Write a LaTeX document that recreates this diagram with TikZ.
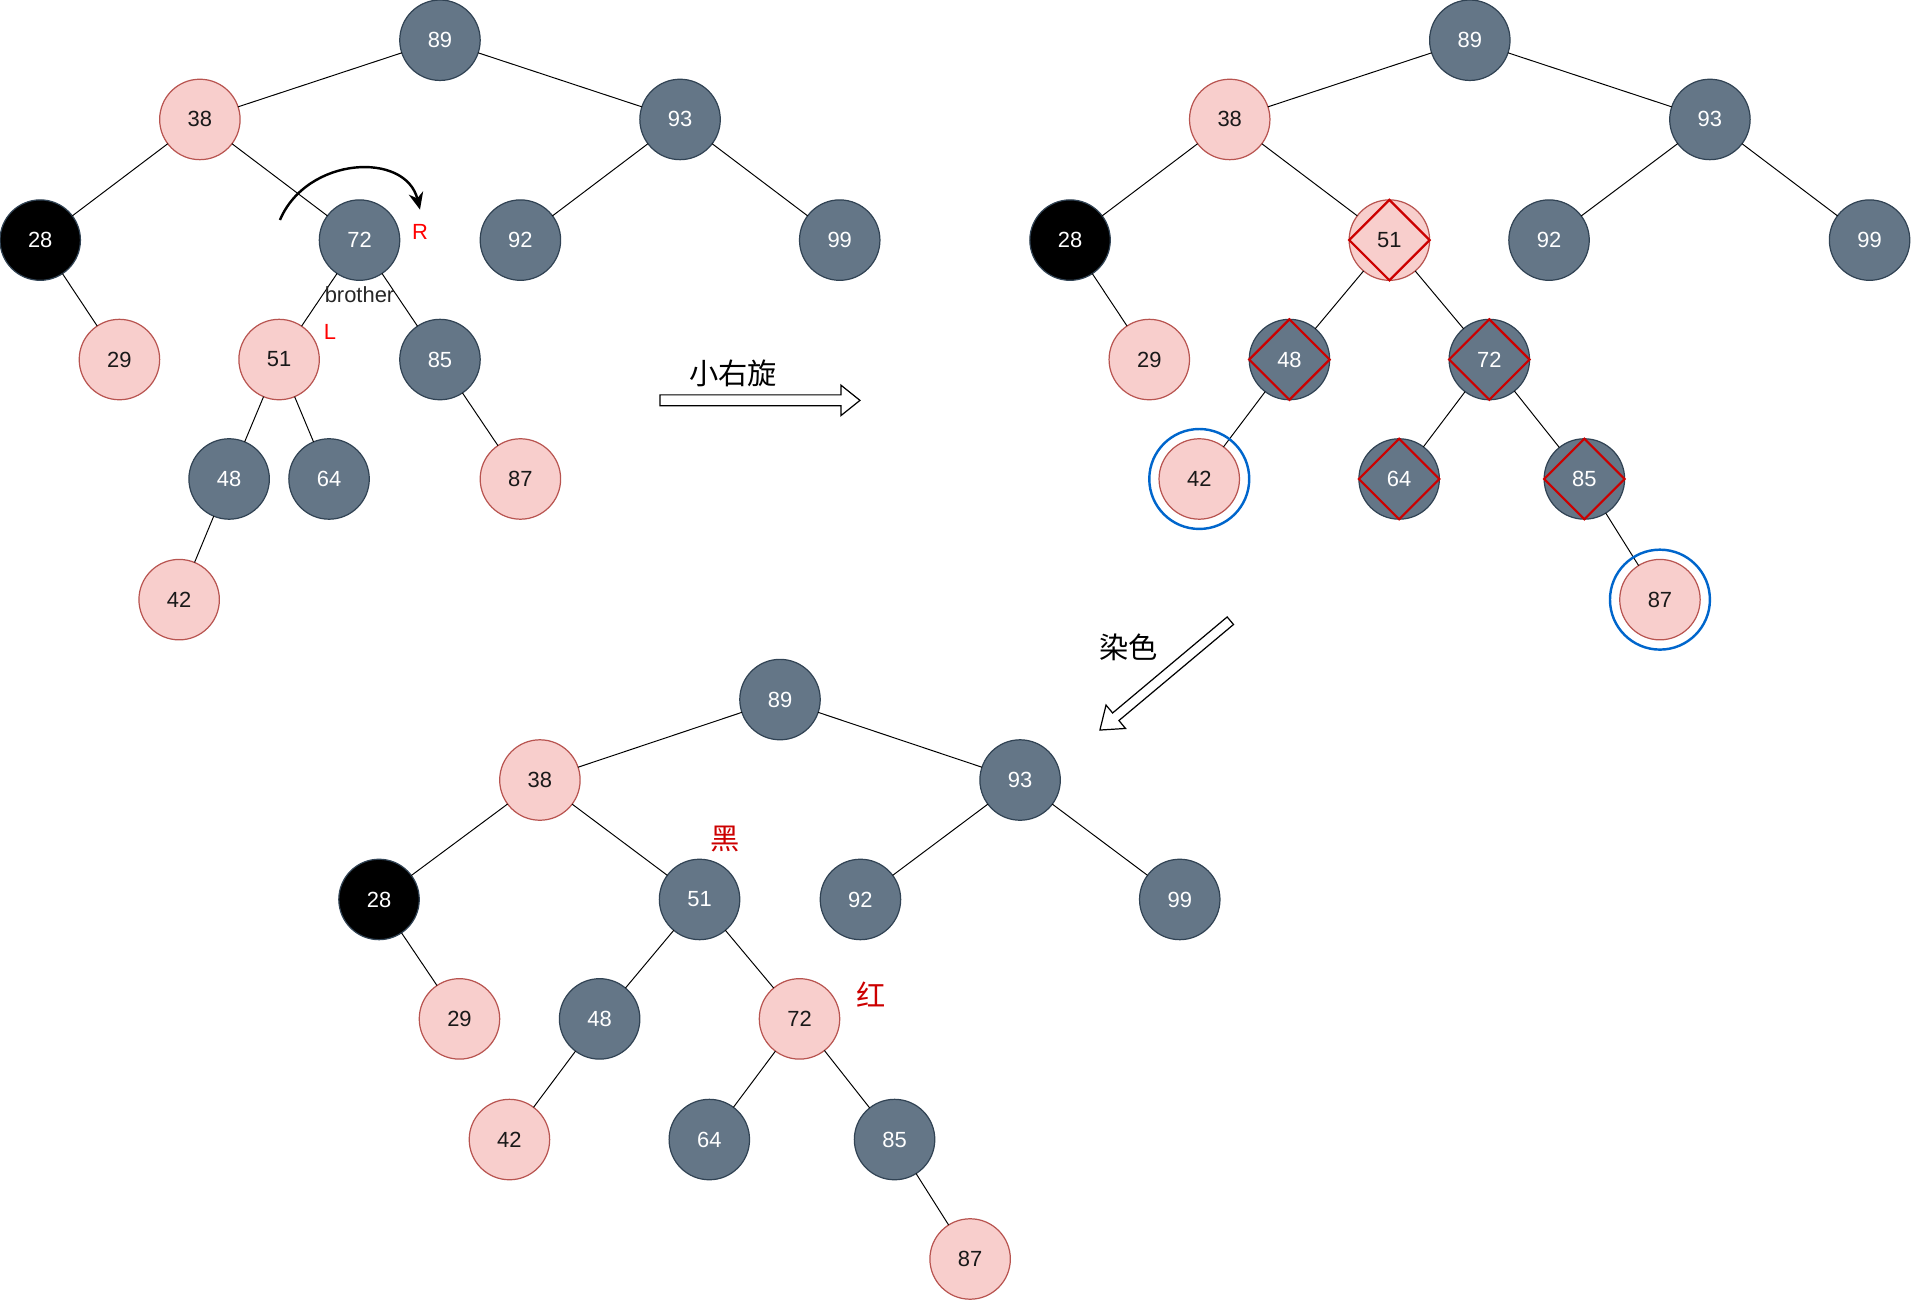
\documentclass[tikz,border=0pt]{standalone}
\usepackage{fontspec}
\setmainfont{Liberation Sans}
\newfontfamily\cjk{Noto Sans CJK SC}
\usetikzlibrary{arrows.meta}
\definecolor{pinkfill}{HTML}{F8CECC}
\definecolor{pinkline}{HTML}{B85450}
\definecolor{darkfill}{HTML}{647687}
\definecolor{darkline}{HTML}{314354}
\definecolor{ringblue}{HTML}{0066CC}
\definecolor{diared}{HTML}{CC0000}
\tikzset{
  nd/.style={circle,minimum size=33pt,inner sep=0pt,outer sep=0pt,line width=0.5pt,font=\fontsize{9pt}{10.5pt}\selectfont},
  rn/.style={nd,fill=pinkfill,draw=pinkline,text=black!90},
  bn/.style={nd,fill=darkfill,draw=darkline,text=white},
  kn/.style={nd,fill=black,draw=darkline,text=white},
  ed/.style={line width=0.4pt,black},
  diam/.style={draw=diared,line width=0.9pt},
  ring/.style={circle,minimum size=41pt,inner sep=0pt,outer sep=0pt,draw=ringblue,line width=1pt},
  blk/.style={draw=black,fill=white,line width=0.5pt,line join=miter},
  lbl/.style={font=\fontsize{9pt}{10.5pt}\selectfont},
  cjklbl/.style={font=\cjk\fontsize{12pt}{14pt}\selectfont}
}
\begin{document}
\begin{tikzpicture}[x=0.5pt,y=-0.5pt]
\useasboundingbox (0,0) rectangle (1568,1067);
% ---------- tree 1 ----------
\node[bn] (a89) at (361,33) {89};
\node[rn] (a38) at (164,98) {38};
\node[bn] (a93) at (558,98) {93};
\node[kn] (a28) at (33,197) {28};
\node[bn] (a72) at (295,197) {72};
\node[bn] (a92) at (427,197) {92};
\node[bn] (a99) at (689,197) {99};
\node[rn] (a29) at (98,295) {29};
\node[rn] (a51) at (229,295) {51};
\node[bn] (a85) at (361,295) {85};
\node[bn] (a48) at (188,393) {48};
\node[bn] (a64) at (270,393) {64};
\node[rn] (a87) at (427,393) {87};
\node[rn] (a42) at (147,492) {42};
\foreach \p/\c in {a89/a38,a89/a93,a38/a28,a38/a72,a93/a92,a93/a99,a28/a29,a72/a51,a72/a85,a51/a48,a51/a64,a85/a87,a48/a42}
  \draw[ed] (\p) -- (\c);
\coordinate (rotS) at (229.7,180.5);
\coordinate (rotE) at (344.6,172);
\draw[line width=1pt,-{Stealth[length=7pt,width=6pt]}] (rotS) .. controls (252,128) and (333,124) .. (rotE);
\node[lbl,text=red] (labR) at (344.6,190) {R};
\node[lbl,text=red] (labL) at (270.8,272) {L};
\node[lbl,text=black!85] (labB) at (295,242) {brother};
% ---------- arrow 1 ----------
\draw[blk] (541.5,324) -- (690,324) -- (690,316) -- (705.6,328.5) -- (690,341) -- (690,333) -- (541.5,333) -- cycle;
\node[cjklbl] (t1) at (601.5,306) {小右旋};
% ---------- tree 2 ----------
\node[bn] (b89) at (1206,33) {89};
\node[rn] (b38) at (1009,98) {38};
\node[bn] (b93) at (1403,98) {93};
\node[kn] (b28) at (878,197) {28};
\node[rn] (b51) at (1140,197) {51};
\node[bn] (b92) at (1271,197) {92};
\node[bn] (b99) at (1534,197) {99};
\node[rn] (b29) at (943,295) {29};
\node[bn] (b48) at (1058,295) {48};
\node[bn] (b72) at (1222,295) {72};
\node[rn] (b42) at (984,393) {42};
\node[bn] (b64) at (1148,393) {64};
\node[bn] (b85) at (1300,393) {85};
\node[rn] (b87) at (1362,492) {87};
\foreach \p/\c in {b89/b38,b89/b93,b38/b28,b38/b51,b93/b92,b93/b99,b28/b29,b51/b48,b51/b72,b48/b42,b72/b64,b72/b85,b85/b87}
  \draw[ed] (\p) -- (\c);
\foreach \n in {b51,b48,b72,b64,b85}
  \draw[diam] (\n.north) -- (\n.east) -- (\n.south) -- (\n.west) -- cycle;
\node[ring] (ring42) at (b42) {};
\node[ring] (ring87) at (b87) {};
% ---------- arrow 2 ----------
\draw[blk] (1006.9,506.2) -- (912.9,585.0) -- (907.5,578.5) -- (902.5,599) -- (923.5,597.7) -- (918.1,591.2) -- (1012.1,512.4) -- cycle;
\node[cjklbl] (t2) at (926,531) {染色};
% ---------- tree 3 ----------
\node[bn] (c89) at (640,574) {89};
\node[rn] (c38) at (443,640) {38};
\node[bn] (c93) at (837,640) {93};
\node[kn] (c28) at (311,738) {28};
\node[bn] (c51) at (574,738) {51};
\node[bn] (c92) at (706,738) {92};
\node[bn] (c99) at (968,738) {99};
\node[rn] (c29) at (377,836) {29};
\node[bn] (c48) at (492,836) {48};
\node[rn] (c72) at (656,836) {72};
\node[rn] (c42) at (418,935) {42};
\node[bn] (c64) at (582,935) {64};
\node[bn] (c85) at (734,935) {85};
\node[rn] (c87) at (796,1033) {87};
\foreach \p/\c in {c89/c38,c89/c93,c38/c28,c38/c51,c93/c92,c93/c99,c28/c29,c51/c48,c51/c72,c48/c42,c72/c64,c72/c85,c85/c87}
  \draw[ed] (\p) -- (\c);
\node[cjklbl,text=diared] (hei) at (595,688) {黑};
\node[cjklbl,text=diared] (hong) at (715,816) {红};
\end{tikzpicture}
\end{document}
